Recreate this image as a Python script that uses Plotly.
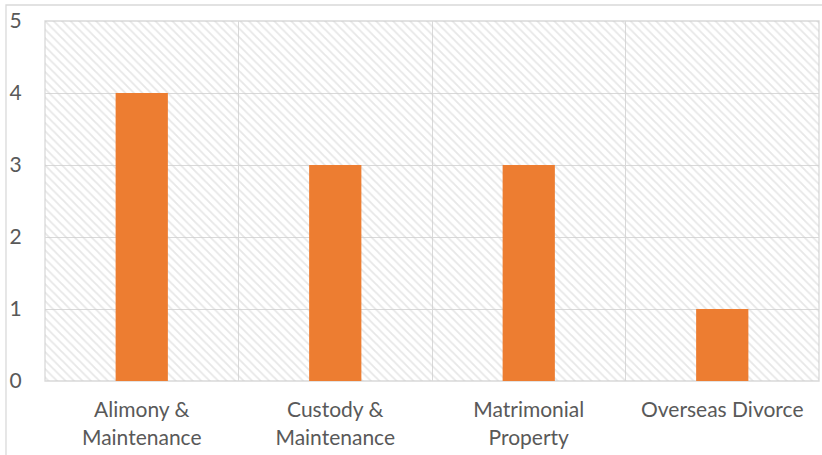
import plotly.graph_objects as go

categories = ["Alimony &<br>Maintenance", "Custody &<br>Maintenance", "Matrimonial<br>Property", "Overseas Divorce"]
values = [4, 3, 3, 1]
y_max = 5

xs = list(range(len(categories)))

fig = go.Figure()
# hatched plot-area background, one cell per category (transparent so grid shows through)
fig.add_trace(go.Bar(
    x=xs, y=[y_max] * len(xs), width=1,
    marker=dict(color="rgba(0,0,0,0)", line=dict(width=0),
                pattern=dict(shape="\\", fgcolor="#CFCFCF", bgcolor="rgba(0,0,0,0)",
                             size=6, solidity=0.3)),
    hoverinfo="skip", showlegend=False,
))
fig.add_trace(go.Bar(
    x=xs, y=values, width=0.27,
    marker=dict(color="#ED7D31", line=dict(width=0)),
    showlegend=False,
))

fig.update_layout(
    width=822, height=455,
    margin=dict(l=45, r=3, t=21, b=74),
    barmode="overlay",
    plot_bgcolor="white", paper_bgcolor="white",
    font=dict(family="Lato", size=21, color="#595959"),
    xaxis=dict(
        range=[-0.5, 3.5], tickvals=xs, ticktext=categories,
        showgrid=False, zeroline=False, showline=False,
        ticks="outside", ticklen=10, tickcolor="rgba(0,0,0,0)",
        minor=dict(tick0=0.5, dtick=1, showgrid=True, gridcolor="#D9D9D9", gridwidth=1.3),
        fixedrange=True,
    ),
    yaxis=dict(
        range=[0, y_max], dtick=1, showgrid=True, gridcolor="#D9D9D9", gridwidth=1.3,
        zeroline=False, showline=False,
        ticks="outside", ticklen=18, tickcolor="rgba(0,0,0,0)",
        fixedrange=True,
    ),
    shapes=[
        dict(type="rect", xref="paper", yref="paper", x0=-0.0504, x1=1.2, y0=-0.4, y1=1.0444,
             line=dict(color="#D9D9D9", width=1.3), fillcolor="rgba(0,0,0,0)", layer="below"),
        dict(type="rect", xref="paper", yref="paper", x0=0, x1=1, y0=0, y1=1,
             line=dict(color="#D9D9D9", width=1.3), fillcolor="rgba(0,0,0,0)", layer="below"),
    ],
)

fig.write_html("out.html")
